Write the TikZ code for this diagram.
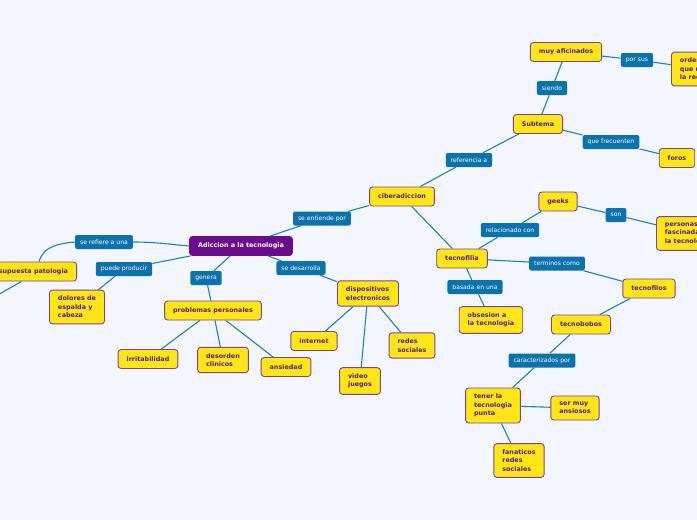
\documentclass[tikz,border=0pt]{standalone}
\usepackage{fontspec}
\setmainfont{DejaVu Sans}
\usepackage{tikz}
\usetikzlibrary{positioning}
\definecolor{mapBg}{HTML}{F4F6FE}
\definecolor{mapYellow}{HTML}{FFE614}
\definecolor{mapBorder}{HTML}{7B449E}
\definecolor{mapText}{HTML}{5A1C8A}
\definecolor{mapPurple}{HTML}{6B0C8C}
\definecolor{mapBlue}{HTML}{0B72AE}
\definecolor{mapLine}{HTML}{1F80C0}

\tikzset{
  topic/.style={draw=mapBorder, line width=0.9pt, fill=mapYellow, rounded corners=3pt,
    text=mapText, font=\fontsize{6.4}{8.4}\selectfont\bfseries,
    inner xsep=8.5pt, inner ysep=6pt, minimum height=19pt, align=left},
  central/.style={topic, fill=mapPurple, draw=mapPurple, text=white},
  rel/.style={fill=mapBlue, rounded corners=2pt, text=white,
    font=\fontsize{6.1}{7}\selectfont, inner xsep=5pt, inner ysep=2pt, minimum height=14pt},
  link/.style={draw=mapLine, line width=1.1pt}
}

\begin{document}
\begin{tikzpicture}[x=1pt,y=-1pt]
\useasboundingbox (0,0) rectangle (697,520);
\fill[mapBg] (0,0) rectangle (697,520);
\clip (0,0) rectangle (697,520);
% main topic and its branches
\node[central] (main) at (241,246) {Adiccion a la tecnologia};
\node[topic, anchor=east] (patologia) at (77,271.5) {supuesta patologia};
\node[topic] (dolores) at (77,307) {dolores de\\espalda y\\cabeza};
\node[topic] (problemas) at (213,310.5) {problemas personales};
\node[topic] (irrita) at (148,359) {irritabilidad};
\node[topic] (desorden) at (223,360) {desorden\\clinicos};
\node[topic] (ansiedad) at (286,367) {ansiedad};
\node[topic] (dispos) at (368,293.5) {dispositivos\\electronicos};
\node[topic] (internet) at (314,341) {internet};
\node[topic] (video) at (360,381) {video\\juegos};
\node[topic] (redes) at (412,345.5) {redes\\sociales};
% ciberadiccion side
\node[topic] (ciber) at (402,196.5) {ciberadiccion};
\node[topic] (subtema) at (538,124) {Subtema};
\node[topic] (aficion) at (566,52) {muy aficinados};
\node[topic, anchor=west] (ordena) at (671,69) {ordenadores\\que usan\\la red};
\node[topic] (foros) at (677,158) {foros};
\node[topic] (tecnofilia) at (462,258.5) {tecnofilia};
\node[topic] (geeks) at (558,201.5) {geeks};
\node[topic, anchor=west] (personas) at (656,233.5) {personas\\fascinadas por\\la tecnologia};
\node[topic] (obsesion) at (491,320) {obsesion a\\la tecnologia};
\node[topic] (tecnofilos) at (649,288.5) {tecnofilos};
\node[topic] (tecnobobos) at (581,324.5) {tecnobobos};
\node[topic] (punta) at (493,405.5) {tener la\\tecnologia\\punta};
\node[topic] (ansiosos) at (575,408) {ser muy\\ansiosos};
\node[topic] (fanaticos) at (519,460.5) {fanaticos\\redes\\sociales};
\coordinate (offleft) at (-20,305);
% relation labels
\node[rel] (refiere) at (104,242) {se refiere a una};
\node[rel] (producir) at (124,269) {puede producir};
\node[rel] (genera) at (206,278) {genera};
\node[rel] (desarrolla) at (301,268) {se desarrolla};
\node[rel] (entiende) at (322,218.5) {se entiende por};
\node[rel] (referencia) at (469,160) {referencia a};
\node[rel] (siendo) at (552,88) {siendo};
\node[rel] (porsus) at (637,60) {por sus};
\node[rel] (frecuenten) at (611,142) {que frecuenten};
\node[rel] (relacion) at (510,230) {relacionado con};
\node[rel] (son) at (616,215) {son};
\node[rel] (terminos) at (557,263.5) {terminos como};
\node[rel] (basada) at (475,287) {basada en una};
\node[rel] (caract) at (542,360.5) {caracterizados por};
% connectors
\draw[link] (main.west) to[out=175,in=0] (refiere.east);
\draw[link] (refiere.west) to[out=185,in=75] (patologia.60);
\draw[link] (patologia.220) -- (offleft);
\foreach \a/\b in {main/producir, producir/dolores, main/genera, genera/problemas,
    problemas/irrita, problemas/desorden, problemas/ansiedad,
    main/desarrolla, desarrolla/dispos, dispos/internet, dispos/video, dispos/redes,
    main/entiende, entiende/ciber, ciber/referencia, referencia/subtema,
    subtema/siendo, siendo/aficion, aficion/porsus, porsus/ordena,
    subtema/frecuenten, frecuenten/foros, ciber/tecnofilia,
    tecnofilia/relacion, relacion/geeks, geeks/son, son/personas,
    tecnofilia/terminos, terminos/tecnofilos, tecnofilia/basada, basada/obsesion,
    tecnofilos/tecnobobos, tecnobobos/caract, caract/punta,
    punta/ansiosos, punta/fanaticos}
  \draw[link] (\a) -- (\b);
\end{tikzpicture}
\end{document}
